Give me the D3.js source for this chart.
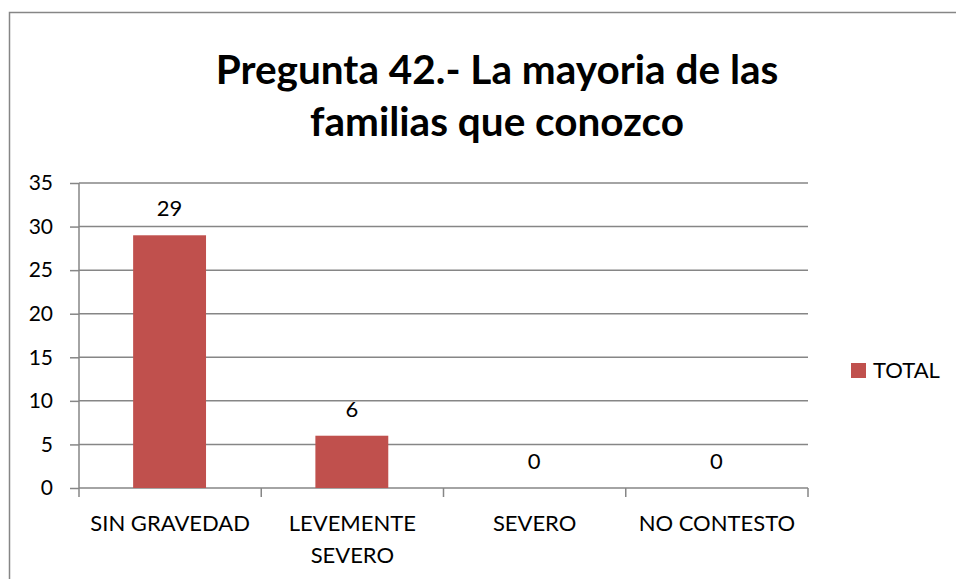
<!DOCTYPE html>
<html>
<head>
<meta charset="utf-8">
<script src="https://cdn.jsdelivr.net/npm/d3@7"></script>
<style>
  body { margin: 0; background: #fff; }
  text { font-family: Lato, "Open Sans", sans-serif; fill: #000; }
</style>
</head>
<body>
<div class="chart"></div>
<script>
const categories = ['SIN GRAVEDAD', 'LEVEMENTE SEVERO', 'SEVERO', 'NO CONTESTO'];
const totals = [29, 6, 0, 0];
const yTicks = [0, 5, 10, 15, 20, 25, 30, 35];
const titleLines = ['Pregunta 42.- La mayoria de las', 'familias que conozco'];
const seriesName = 'TOTAL';

const W = 956, H = 579;
const plot = { left: 79, right: 808, top: 183, bottom: 488 };

const svg = d3.select('.chart')
  .append('svg')
  .attr('width', W)
  .attr('height', H);

// outer frame (runs off the right and bottom edge like the original)
svg.append('rect')
  .attr('x', 9.5).attr('y', 12.5)
  .attr('width', 980).attr('height', 620)
  .attr('fill', 'none')
  .attr('stroke', '#868686')
  .attr('stroke-width', 1.5);

// title
svg.append('g')
  .selectAll('text')
  .data(titleLines)
  .enter()
  .append('text')
  .attr('x', 497)
  .attr('y', (d, i) => 84 + i * 52)
  .attr('text-anchor', 'middle')
  .attr('font-weight', 'bold')
  .attr('font-size', 40.5)
  .text(d => d);

const x = d3.scaleBand()
  .domain(categories)
  .range([plot.left, plot.right])
  .padding(0);

const y = d3.scaleLinear()
  .domain([0, 35])
  .range([plot.bottom, plot.top]);

// y axis
const yAxis = svg.append('g')
  .attr('transform', `translate(${plot.left}, 0)`)
  .call(d3.axisLeft(y).tickValues(yTicks).tickSize(9).tickPadding(17));
yAxis.select('.domain').attr('stroke', '#868686').attr('stroke-width', 1.5)
  .attr('d', `M0,${plot.top}V${plot.bottom}`);
yAxis.selectAll('.tick line').attr('stroke', '#868686').attr('stroke-width', 1.5);
yAxis.selectAll('.tick text')
  .attr('font-size', 21)
  .style('font-family', 'Lato, "Open Sans", sans-serif')
  .attr('fill', '#000');

// gridlines
svg.append('g')
  .selectAll('line')
  .data(yTicks.filter(d => d > 0))
  .enter()
  .append('line')
  .attr('x1', plot.left).attr('x2', plot.right)
  .attr('y1', d => y(d)).attr('y2', d => y(d))
  .attr('stroke', '#868686')
  .attr('stroke-width', 1.5);

// x axis with ticks at band edges
const xAxis = svg.append('g')
  .attr('transform', `translate(0, ${plot.bottom})`);
xAxis.append('line')
  .attr('x1', plot.left).attr('x2', plot.right)
  .attr('stroke', '#868686').attr('stroke-width', 1.5);
xAxis.selectAll('.xtick')
  .data(categories.concat(['end']))
  .enter()
  .append('line')
  .attr('class', 'xtick')
  .attr('x1', d => d === 'end' ? plot.right : x(d))
  .attr('x2', d => d === 'end' ? plot.right : x(d))
  .attr('y1', 0).attr('y2', 9)
  .attr('stroke', '#868686').attr('stroke-width', 1.5);

// category labels (wrapped like Excel)
const wrapped = { 'LEVEMENTE SEVERO': ['LEVEMENTE', 'SEVERO'] };
const catLabels = svg.append('g')
  .selectAll('text')
  .data(categories)
  .enter()
  .append('text')
  .attr('text-anchor', 'middle')
  .attr('font-size', 22);
catLabels.each(function (d) {
  const lines = wrapped[d] || [d];
  d3.select(this).selectAll('tspan')
    .data(lines)
    .enter()
    .append('tspan')
    .attr('x', x(d) + x.bandwidth() / 2)
    .attr('y', (l, i) => 531 + i * 32)
    .text(l => l);
});

// bars
const barW = x.bandwidth() * 0.4;
svg.append('g')
  .selectAll('rect')
  .data(totals)
  .enter()
  .append('rect')
  .attr('x', (d, i) => x(categories[i]) + x.bandwidth() * 0.297)
  .attr('y', d => y(d))
  .attr('width', barW)
  .attr('height', d => plot.bottom - y(d))
  .attr('fill', '#c0504d');

// data labels
svg.append('g')
  .selectAll('text')
  .data(totals)
  .enter()
  .append('text')
  .attr('x', (d, i) => x(categories[i]) + x.bandwidth() * 0.497)
  .attr('y', d => y(d) - 19)
  .attr('text-anchor', 'middle')
  .attr('font-size', 22)
  .text(d => d);

// legend
const legend = svg.append('g').attr('transform', 'translate(851, 363)');
legend.append('rect')
  .attr('width', 15).attr('height', 15)
  .attr('fill', '#c0504d');
legend.append('text')
  .attr('x', 22).attr('y', 15)
  .attr('font-size', 22)
  .text(seriesName);
</script>
</body>
</html>
